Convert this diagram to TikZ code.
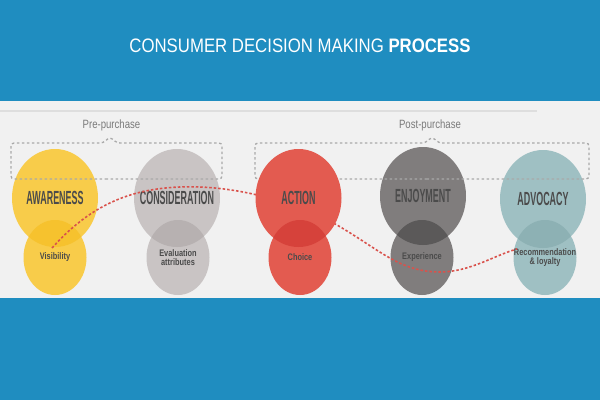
\documentclass[tikz,border=0pt]{standalone}
\usepackage{fontspec}
\setmainfont{Liberation Sans}
\newfontfamily\titlefont[FakeStretch=0.86]{Liberation Sans}
\newfontfamily\stagefont[FakeStretch=0.47]{Liberation Sans}
\newfontfamily\subfont[FakeStretch=0.78]{Liberation Sans}
\newfontfamily\phasefont[FakeStretch=0.8]{Liberation Sans}
\usetikzlibrary{shapes.geometric}

\definecolor{bgblue}{HTML}{1F8DC0}
\definecolor{panel}{HTML}{F1F1F1}
\definecolor{rulegrey}{HTML}{DEDEDE}
\definecolor{dashgrey}{HTML}{A9A9A9}
\definecolor{labelgrey}{HTML}{4B4B4B}
\definecolor{phasegrey}{HTML}{7A7A7A}
\definecolor{pathred}{HTML}{D9524C}
\definecolor{awcol}{HTML}{F8CC4A}
\definecolor{awdark}{HTML}{F6C22E}
\definecolor{cocol}{HTML}{C9C4C4}
\definecolor{codark}{HTML}{B7B1B1}
\definecolor{accol}{HTML}{E35B50}
\definecolor{acdark}{HTML}{D6423B}
\definecolor{encol}{HTML}{807D7D}
\definecolor{endark}{HTML}{5B5959}
\definecolor{adcol}{HTML}{9FC0C3}
\definecolor{addark}{HTML}{8DB1B4}

% darker lens where the small circle meets the big one
\newcommand{\lens}[3]{%
  \begin{scope}
    \clip (#2.center) ellipse [x radius=31.5, y radius=37.5];
    \fill[#3] (#1.center) ellipse [x radius=43, y radius=49];
  \end{scope}}

\begin{document}
\begin{tikzpicture}[x=1pt, y=1pt,
    bigcirc/.style={ellipse, minimum width=86pt, minimum height=98pt, inner sep=0pt},
    smallcirc/.style={ellipse, minimum width=63pt, minimum height=75pt, inner sep=0pt},
    stagelabel/.style={text=labelgrey, font=\stagefont\bfseries\fontsize{19}{19}\selectfont},
    sublabel/.style={text=labelgrey, align=center, font=\subfont\bfseries\fontsize{9.5}{9}\selectfont},
    bracket/.style={dashgrey, line width=1.3pt, dash pattern=on 2.5pt off 2.5pt, rounded corners=3pt},
    phase/.style={phasegrey, font=\phasefont\fontsize{12}{12}\selectfont}]
    \useasboundingbox (0,0) rectangle (600,400);
    \fill[bgblue] (0,0) rectangle (600,400);
    \fill[panel] (0,102) rectangle (600,299);
    \draw[rulegrey, line width=1.5pt] (0,289) -- (537,289);

    % title
    \node[white, anchor=base, font=\titlefont\fontsize{19.5}{20}\selectfont] (title) at (300,347)
        {CONSUMER DECISION MAKING \textbf{PROCESS}};

    % stages
    \node[bigcirc, fill=awcol] (aw) at (55,202) {};
    \node[smallcirc, fill=awcol] (aws) at (55,142.5) {};
    \lens{aw}{aws}{awdark}
    \node[stagelabel] (awl) at (aw.center) {AWARENESS};
    \node[sublabel] (awsl) at (aws.center) {Visibility};

    \node[bigcirc, fill=cocol] (co) at (177,202) {};
    \node[smallcirc, fill=cocol] (cos) at (178,142.5) {};
    \lens{co}{cos}{codark}
    \node[stagelabel] (col) at (co.center) {CONSIDERATION};
    \node[sublabel] (cosl) at (cos.center) {Evaluation\\attributes};

    \node[bigcirc, fill=encol] (en) at (423,204) {};
    \node[smallcirc, fill=encol] (ens) at (422,142.5) {};
    \lens{en}{ens}{endark}
    \node[stagelabel] (enl) at (en.center) {ENJOYMENT};
    \node[sublabel] (ensl) at (ens.center) {Experience};

    \node[bigcirc, fill=adcol] (ad) at (543,201) {};
    \node[smallcirc, fill=adcol] (ads) at (545,142.5) {};
    \lens{ad}{ads}{addark}
    \node[stagelabel] (adl) at (ad.center) {ADVOCACY};
    \node[sublabel] (adsl) at (ads.center) {Recommendation\\\& loyalty};

    % phase brackets
    \draw[bracket] (110,221) -- (11,221) -- (11,257) -- (103,257) -- (110,263) -- (117,257)
        -- (222,257) -- (222,221) -- cycle;
    \node[phase] (pre) at (111.5,275) {Pre-purchase};
    \draw[bracket] (430,221) -- (255,221) -- (255,257) -- (425,257) -- (432,263) -- (439,257)
        -- (589,257) -- (589,221) -- cycle;
    \node[phase] (post) at (430,275) {Post-purchase};

    % journey path
    \coordinate (jstart) at (52,152);
    \coordinate (jend) at (517,151);
    \draw[pathred, line width=1.6pt, dash pattern=on 2.5pt off 2pt]
        (jstart) .. controls (95,200) and (140,215) .. (200,213)
        .. controls (250,211) and (300,195) .. (337,175)
        .. controls (380,150) and (400,128) .. (440,128)
        .. controls (470,128) and (495,145) .. (jend);

    % action sits on top
    \node[bigcirc, fill=accol] (ac) at (298.5,202) {};
    \node[smallcirc, fill=accol] (acs) at (300,142.5) {};
    \lens{ac}{acs}{acdark}
    \node[stagelabel] (acl) at (ac.center) {ACTION};
    \node[sublabel] (acsl) at (acs.center) {Choice};
\end{tikzpicture}
\end{document}
